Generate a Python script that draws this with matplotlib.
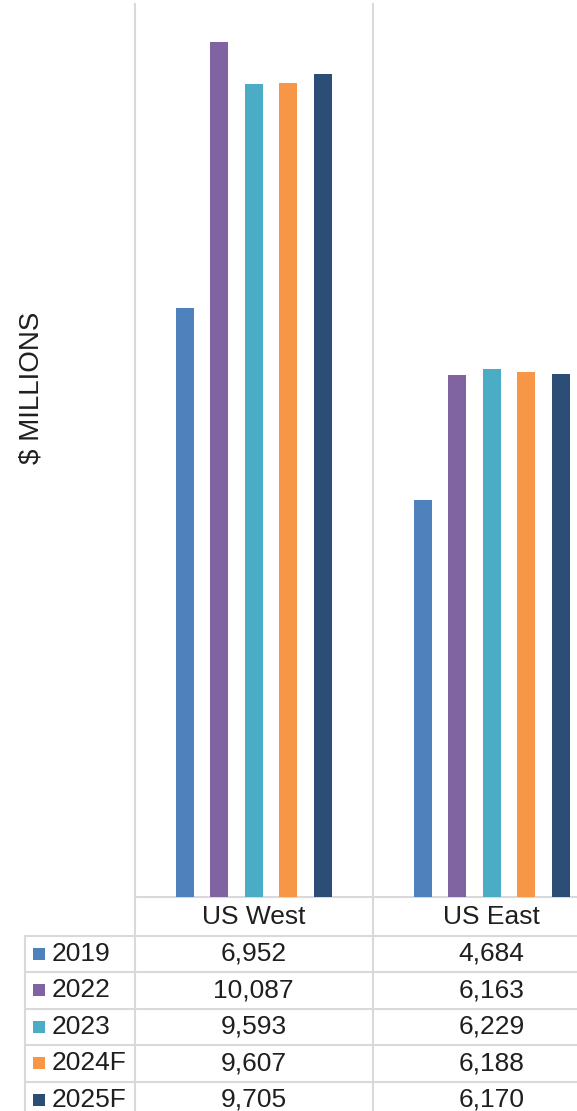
import matplotlib.pyplot as plt
from matplotlib.lines import Line2D
from matplotlib.patches import Rectangle
from matplotlib.transforms import blended_transform_factory

# Données du graphique
regions = ["US West", "US East"]
series = ["2019", "2022", "2023", "2024F", "2025F"]
values_west = [6952, 10087, 9593, 9607, 9705]
values_east = [4684, 6163, 6229, 6188, 6170]
colors = ["#4F81BD", "#8064A2", "#4BACC6", "#F79646", "#2C4D75"]
y_label = "$ MILLIONS"

W, H = 577, 1111
GRID = "#d9d9d9"
INK = "#1f1f1f"


def fy(py):
    # pixel (depuis le haut) -> fraction de figure
    return 1 - py / H


def main():
    plt.rcParams["font.family"] = ["Liberation Sans", "DejaVu Sans"]

    fig = plt.figure(figsize=(W / 100, H / 100), dpi=100)
    fig.patch.set_facecolor("white")

    # zone de tracé : s'étend au-delà du bord droit (image recadrée)
    left, right, top, base = 134.7, 610.7, 4, 897
    ax = fig.add_axes([left / W, fy(base), (right - left) / W, (base - top) / H])
    ax.set_xlim(-0.5, 1.5)
    ax.set_ylim(0, 10535)
    ax.set_facecolor("none")
    for spine in ax.spines.values():
        spine.set_visible(False)
    ax.set_xticks([])
    ax.set_yticks([])

    step, width = 0.145, 0.0756
    for i, (name, color) in enumerate(zip(series, colors)):
        vals = [values_west[i], values_east[i]]
        xs = [k + (i - 2) * step for k in range(len(regions))]
        ax.bar(xs, vals, width=width, color=color, zorder=3)

    # grille verticale (frontières de catégories) descendant dans le tableau
    trans = blended_transform_factory(ax.transData, ax.transAxes)

    def ya(py):
        return (base - py) / (base - top)

    for xb in [-0.5, 0.5, 1.5]:
        ax.add_line(Line2D([xb, xb], [1, ya(H + 5)], transform=trans,
                           color=GRID, lw=1.5, clip_on=False, zorder=1))

    # lignes horizontales du tableau
    ax.add_line(Line2D([-0.5, 1.6], [0, 0], transform=trans,
                       color=GRID, lw=1.5, clip_on=False, zorder=1))
    row0, row_h = 935.7, 36.45
    row_lines = [row0 + row_h * k for k in range(len(series))]
    for py in row_lines:
        fig.add_artist(Line2D([25 / W, 1], [fy(py), fy(py)], color=GRID, lw=1.5))
    fig.add_artist(Line2D([25 / W, 25 / W], [fy(row0), 0], color=GRID, lw=1.5))

    # en-tête des catégories
    for k, reg in enumerate(regions):
        ax.text(k, ya(916.5), reg, transform=trans, ha="center", va="center",
                fontsize=19, color=INK, clip_on=False)

    # lignes de valeurs + légende
    for i, (name, color) in enumerate(zip(series, colors)):
        yc = row0 + row_h * (i + 0.5)
        for k, vals in enumerate([values_west, values_east]):
            ax.text(k, ya(yc), f"{vals[i]:,}", transform=trans, ha="center",
                    va="center", fontsize=19, color=INK, clip_on=False)
        fig.add_artist(Rectangle((33 / W, fy(yc + 6)), 12 / W, 12 / H,
                                 transform=fig.transFigure, color=color, lw=0))
        fig.text(52 / W, fy(yc), name, ha="left", va="center",
                 fontsize=19, color=INK)

    fig.text(32 / W, fy(388), y_label, rotation=90, ha="center", va="center",
             fontsize=20, color=INK)

    fig.savefig("out.png", dpi=100, facecolor="white")
    plt.close(fig)


if __name__ == "__main__":
    main()
